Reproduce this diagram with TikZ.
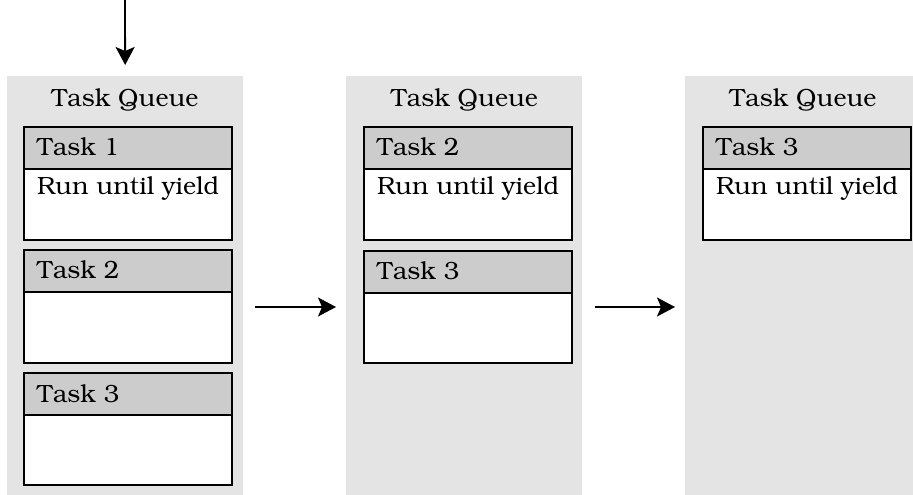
\documentclass[tikz,border=0pt]{standalone}
\usepackage[T1]{fontenc}
\usepackage{bookman}
\usetikzlibrary{arrows.meta}
\definecolor{panelgray}{HTML}{E4E4E4}
\definecolor{headgray}{HTML}{CCCCCC}
\begin{document}
\begin{tikzpicture}[x=1bp,y=-1bp,
  every node/.style={font=\fontsize{25}{30}\selectfont},
  panel/.style={fill=panelgray, draw=none, anchor=north west, minimum width=236bp, minimum height=425bp, inner sep=0pt},
  taskhead/.style={fill=headgray, draw=black, line width=1.6bp, anchor=north west, minimum width=208bp, minimum height=42bp, inner sep=0pt},
  taskbody/.style={fill=white, draw=black, line width=1.6bp, anchor=north west, minimum width=208bp, minimum height=71bp, inner sep=0pt},
  lbl/.style={anchor=base west, inner sep=0pt},
  ttl/.style={anchor=base, inner sep=0pt},
  arr/.style={line width=1.8bp, -{Stealth[length=18bp,width=19bp,inset=4bp]}}
]
\useasboundingbox (0,0) rectangle (913,495);
\clip (0,0) rectangle (913,495);
% panels
\node[panel] (p1) at (7,76) {};
\node[panel] (p2) at (346,76) {};
\node[panel] (p3) at (685,76) {};
\node[ttl] (q1) at (125,107) {Task Queue};
\node[ttl] (q2) at (464.5,107) {Task Queue};
\node[ttl] (q3) at (803,107) {Task Queue};
% panel 1
\node[taskbody, minimum height=113bp] (b11) at (23,126) {};
\node[taskhead] (h11) at (23,126) {};
\node[lbl] (t11) at (37,156) {Task 1};
\node[lbl] (r11) at (37,195) {Run until yield};
\node[taskbody, minimum height=113bp] (b12) at (23,249) {};
\node[taskhead] (h12) at (23,249) {};
\node[lbl] (t12) at (37,279) {Task 2};
\node[taskbody, minimum height=112bp] (b13) at (23,372) {};
\node[taskhead] (h13) at (23,372) {};
\node[lbl] (t13) at (37,402) {Task 3};
% panel 2
\node[taskbody, minimum height=113bp] (b21) at (363,126) {};
\node[taskhead] (h21) at (363,126) {};
\node[lbl] (t21) at (377,156) {Task 2};
\node[lbl] (r21) at (377,195) {Run until yield};
\node[taskbody, minimum height=112bp] (b22) at (363,250) {};
\node[taskhead] (h22) at (363,250) {};
\node[lbl] (t22) at (377,280) {Task 3};
% panel 3
\node[taskbody, minimum height=113bp] (b31) at (702,126) {};
\node[taskhead] (h31) at (702,126) {};
\node[lbl] (t31) at (716,156) {Task 3};
\node[lbl] (r31) at (716,195) {Run until yield};
% arrows
\coordinate (top) at (125,0);
\coordinate (lvl) at (0,307);
\draw[arr, shorten >=11bp] (top) -- (p1.north |- p1.north);
\draw[arr, shorten <=12bp, shorten >=10bp] (p1.east |- lvl) -- (p2.west |- lvl);
\draw[arr, shorten <=13bp, shorten >=10bp] (p2.east |- lvl) -- (p3.west |- lvl);
\end{tikzpicture}
\end{document}
